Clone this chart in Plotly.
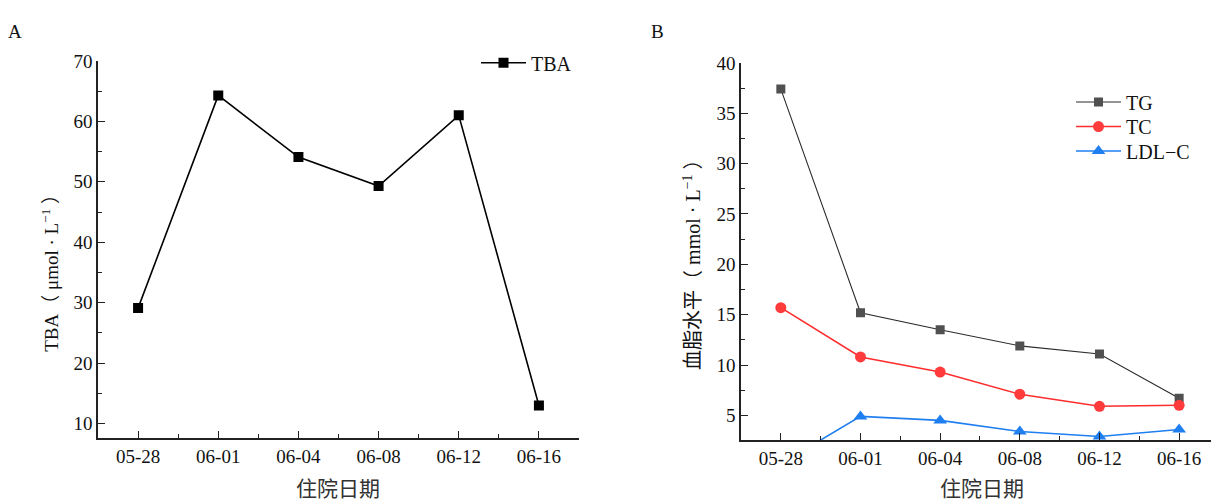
import plotly.graph_objects as go

dates = ["05-28", "06-01", "06-04", "06-08", "06-12", "06-16"]
tba = [29.1, 64.3, 54.1, 49.3, 61.0, 13.0]
tg = [37.4, 15.2, 13.5, 11.9, 11.1, 6.7]
tc = [15.7, 10.8, 9.3, 7.1, 5.9, 6.0]
ldl = [0.2, 4.9, 4.5, 3.4, 2.9, 3.6]

xpos = list(range(len(dates)))
W, H = 1211, 502
SERIF = "Liberation Serif, Noto Sans CJK SC"
AX = "#222222"

fig = go.Figure()
fig.add_trace(go.Scatter(x=xpos, y=tba, name="TBA", mode="lines+markers",
                         line=dict(color="black", width=1.6),
                         marker=dict(symbol="square", size=10, color="black"),
                         xaxis="x", yaxis="y", legend="legend"))
fig.add_trace(go.Scatter(x=xpos, y=tg, name="TG", mode="lines+markers",
                         line=dict(color="#2b2b2b", width=1.1),
                         marker=dict(symbol="square", size=9, color="#505050"),
                         xaxis="x2", yaxis="y2", legend="legend2"))
fig.add_trace(go.Scatter(x=xpos, y=tc, name="TC", mode="lines+markers",
                         line=dict(color="#ff2d2d", width=1.6),
                         marker=dict(symbol="circle", size=11, color="#ff3b3b"),
                         xaxis="x2", yaxis="y2", legend="legend3"))
fig.add_trace(go.Scatter(x=xpos, y=ldl, name="LDL\u2212C", mode="lines+markers",
                         line=dict(color="#1f7ff0", width=1.6),
                         marker=dict(symbol="triangle-up", size=12, color="#1f7ff0"),
                         xaxis="x2", yaxis="y2", legend="legend4"))

def xax(domain, rng, anchor):
    return dict(domain=domain, range=rng, anchor=anchor, tickmode="array",
                tickvals=xpos, ticktext=dates, ticks="inside", ticklen=7,
                tickwidth=1.3, tickcolor=AX, showline=True, linecolor=AX,
                linewidth=1.6, showgrid=False, zeroline=False,
                tickfont=dict(family=SERIF, size=19, color="#111"),
                minor=dict(tickmode="array", tickvals=[0.5, 1.5, 2.5, 3.5, 4.5],
                           ticks="inside", ticklen=4, tickwidth=1.2, tickcolor=AX))

def yax(domain, rng, anchor, major, minor):
    return dict(domain=domain, range=rng, anchor=anchor, tickmode="array",
                tickvals=major, ticks="inside", ticklen=7, tickwidth=1.3,
                tickcolor=AX, showline=True, linecolor=AX, linewidth=1.6,
                showgrid=False, zeroline=False,
                tickfont=dict(family=SERIF, size=19, color="#111"),
                minor=dict(tickmode="array", tickvals=minor, ticks="inside",
                           ticklen=4, tickwidth=1.2, tickcolor=AX))

def leg(px, py, size):
    return dict(x=px / W, y=1 - py / H, xanchor="left", yanchor="top",
                bgcolor="rgba(0,0,0,0)", font=dict(family=SERIF, size=size, color="#111"),
                itemwidth=45)

fig.update_layout(
    width=W, height=H, margin=dict(l=0, r=0, t=0, b=0),
    paper_bgcolor="white", plot_bgcolor="white", showlegend=True,
    xaxis=xax([98 / W, 579 / W], [-0.5, 5.5], "y"),
    yaxis=yax([1 - 437 / H, 1 - 52 / H], [7.56, 70], "x",
              [10, 20, 30, 40, 50, 60, 70], [15, 25, 35, 45, 55, 65]),
    xaxis2=xax([741 / W, 1.0], [-0.5, 5.4], "y2"),
    yaxis2=yax([1 - 439 / H, 1 - 54 / H], [2.53, 40], "x2",
               [5, 10, 15, 20, 25, 30, 35, 40],
               [7.5, 12.5, 17.5, 22.5, 27.5, 32.5, 37.5]),
    legend=leg(476, 34, 20),
    legend2=leg(1071, 74, 20),
    legend3=leg(1071, 99, 20),
    legend4=leg(1071, 124, 20),
)

ann = [
    dict(text="A", x=15 / W, y=1 - 22 / H, font=dict(size=19)),
    dict(text="B", x=657 / W, y=1 - 22 / H, font=dict(size=19)),
    dict(text="住院日期", x=338 / W, y=1 - 489 / H, font=dict(size=21, color="#333")),
    dict(text="住院日期", x=982 / W, y=1 - 489 / H, font=dict(size=21, color="#333")),
    dict(text="TBA（ μmol · L<sup>−1</sup> ）", x=50 / W, y=1 - 264 / H, textangle=-90,
         font=dict(size=19)),
    dict(text="血脂水平（ mmol · L<sup>−1</sup> ）", x=692 / W, y=1 - 255 / H, textangle=-90,
         font=dict(size=20)),
]
for a in ann:
    a.setdefault("font", {})
    a["font"].setdefault("color", "#111")
    a["font"]["family"] = SERIF
    fig.add_annotation(xref="paper", yref="paper", showarrow=False,
                       xanchor="center", yanchor="middle", **a)

fig.write_html("out.html", config={"displayModeBar": False},
               post_script="document.body.style.margin='0';document.body.style.overflow='hidden';")
